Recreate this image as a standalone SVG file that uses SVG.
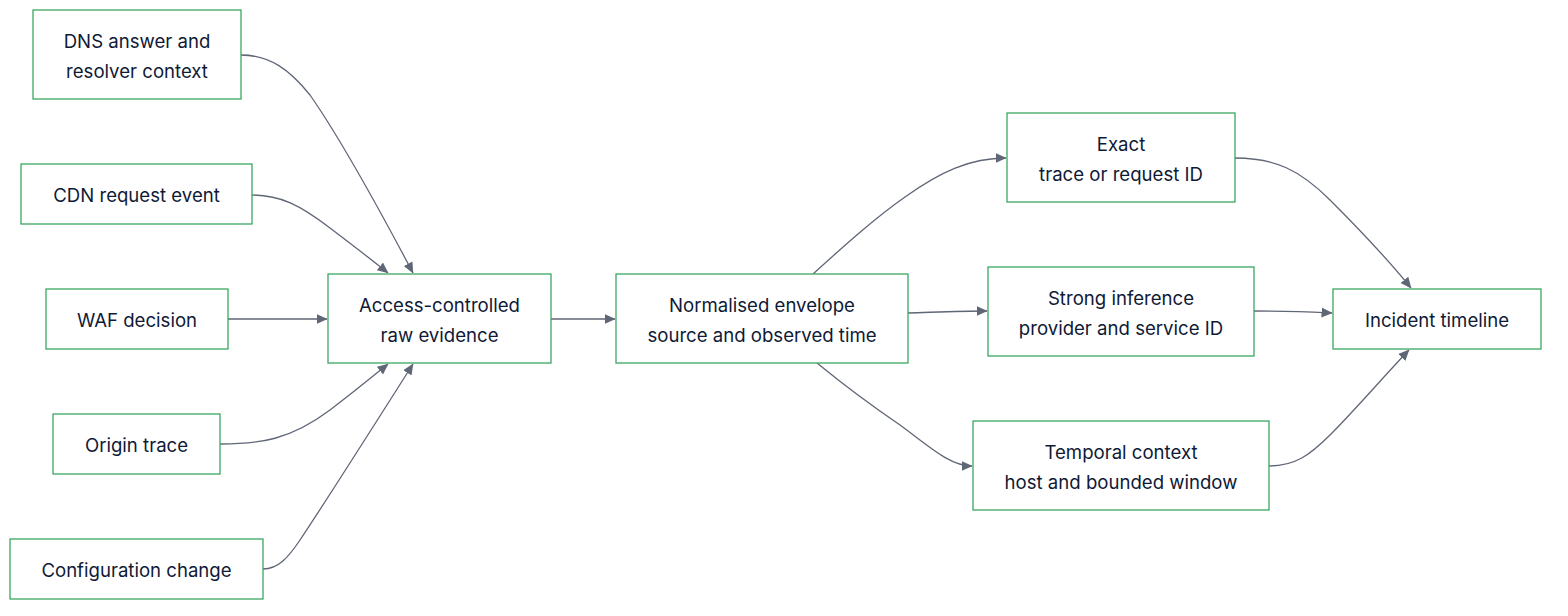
<svg xmlns="http://www.w3.org/2000/svg" width="1568" height="616" viewBox="0 0 1568 616">
<style>
.n rect{fill:#fff;stroke:#3aa862;stroke-width:1.3}
.n text{font-family:Inter,"Noto Sans","Liberation Sans",sans-serif;font-size:18.6px;fill:#0f1a36;text-anchor:middle;dominant-baseline:central}
#edges path{fill:none;stroke:#5f6676;stroke-width:1.3;marker-end:url(#arr)}
</style>
<defs>
<marker id="arr" viewBox="0 0 10 10" refX="9.5" refY="5" markerWidth="11" markerHeight="11" markerUnits="userSpaceOnUse" orient="auto">
<path d="M0,0.5 L10,5 L0,9.5 z" fill="#5f6676"/>
</marker>
</defs>
<rect width="1568" height="616" fill="#fff"/>
<g id="edges">
<path d="M241,55 C270,55 290,70 310,95 C345,145 385,220 413,273"/>
<path d="M252,195 C280,195 300,205 330,228 C355,247 372,260 388,273"/>
<path d="M228,319 L327,319"/>
<path d="M220,444 C260,444 290,440 330,410 C355,391 372,377 388,364"/>
<path d="M263,569 C278,569 288,558 300,540 C330,495 385,408 413,364"/>
<path d="M551,319 L615,319"/>
<path d="M813,274 C845,245 875,218 905,197 C940,172 970,158 1006,158"/>
<path d="M908,313 C940,312 960,311 987,311"/>
<path d="M817,363 C850,390 875,408 900,425 C930,447 950,466 972,466"/>
<path d="M1235,158 C1275,158 1300,170 1330,200 C1360,230 1390,262 1411,288"/>
<path d="M1254,311 C1290,311 1310,312 1332,313"/>
<path d="M1269,466 C1295,466 1310,455 1330,435 C1355,410 1385,375 1409,350"/>
</g>
<g id="dns" class="n"><rect x="33" y="10" width="208" height="89"/><text x="137" y="41">DNS answer and</text><text x="137" y="71">resolver context</text></g>
<g id="cdn" class="n"><rect x="21" y="164" width="231" height="60"/><text x="136.5" y="195">CDN request event</text></g>
<g id="waf" class="n"><rect x="46" y="289" width="182" height="60"/><text x="137" y="320">WAF decision</text></g>
<g id="origin" class="n"><rect x="53" y="414" width="167" height="60"/><text x="136.5" y="445">Origin trace</text></g>
<g id="config" class="n"><rect x="10" y="539" width="253" height="60"/><text x="136.5" y="570">Configuration change</text></g>
<g id="access" class="n"><rect x="328" y="274" width="223" height="89"/><text x="439.5" y="305">Access-controlled</text><text x="439.5" y="335">raw evidence</text></g>
<g id="normalised" class="n"><rect x="616" y="274" width="292" height="89"/><text x="762" y="305">Normalised envelope</text><text x="762" y="335">source and observed time</text></g>
<g id="exact" class="n"><rect x="1007" y="113" width="228" height="89"/><text x="1121" y="144">Exact</text><text x="1121" y="174">trace or request ID</text></g>
<g id="strong" class="n"><rect x="988" y="267" width="266" height="89"/><text x="1121" y="298">Strong inference</text><text x="1121" y="328">provider and service ID</text></g>
<g id="temporal" class="n"><rect x="973" y="421" width="296" height="89"/><text x="1121" y="452">Temporal context</text><text x="1121" y="482">host and bounded window</text></g>
<g id="incident" class="n"><rect x="1333" y="289" width="208" height="60"/><text x="1437" y="320">Incident timeline</text></g>
</svg>
